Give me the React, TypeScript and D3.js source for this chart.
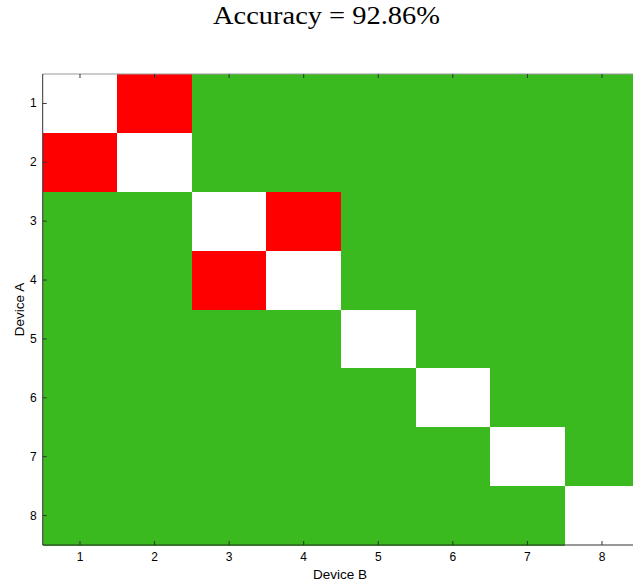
import React from "react";
import * as d3 from "d3";

const devicesA = ["1", "2", "3", "4", "5", "6", "7", "8"];
const devicesB = ["1", "2", "3", "4", "5", "6", "7", "8"];
// 0 = same device (white), 1 = confused (red), 2 = correctly distinguished (green)
const matrix: number[][] = [
  [0, 1, 2, 2, 2, 2, 2, 2],
  [1, 0, 2, 2, 2, 2, 2, 2],
  [2, 2, 0, 1, 2, 2, 2, 2],
  [2, 2, 1, 0, 2, 2, 2, 2],
  [2, 2, 2, 2, 0, 2, 2, 2],
  [2, 2, 2, 2, 2, 0, 2, 2],
  [2, 2, 2, 2, 2, 2, 0, 2],
  [2, 2, 2, 2, 2, 2, 2, 0],
];
const cellColors = ["#ffffff", "#ff0000", "#3aba1e"];
const title = "Accuracy = 92.86%";

export default function App() {
  const W = 633, H = 587;
  const left = 42.7, top = 74, cellW = 74.57, bottom = 545;
  const right = left + cellW * devicesB.length;
  const x = d3.scaleBand().domain(devicesB).range([left, right]);
  const y = d3.scaleBand().domain(devicesA).range([top, bottom]);
  const color = d3.scaleOrdinal<number, string>().domain([0, 1, 2]).range(cellColors);
  const font = "'Liberation Sans', Arial, sans-serif";
  const tick = 4;
  return (
    <svg width={W} height={H} style={{ position: "absolute", left: 0, top: 0, background: "#fff" }}>
      <text x={326.5} y={24} textAnchor="middle" fontFamily="'Liberation Serif', 'DejaVu Serif', serif" fontSize={26} textLength={227} lengthAdjust="spacingAndGlyphs" fill="#000">
        {title}
      </text>
      <g shapeRendering="crispEdges">
        {matrix.map((row, i) =>
          row.map((v, j) => (
            <rect key={`${i}-${j}`} x={x(devicesB[j])!} y={y(devicesA[i])!} width={x.bandwidth() + 0.5} height={y.bandwidth() + 0.5} fill={color(v)} />
          ))
        )}
      </g>
      {/* frame */}
      <line x1={left} x2={right} y1={top} y2={top} stroke="#999" strokeWidth={1} />
      <line x1={left} x2={right} y1={bottom} y2={bottom} stroke="#333" strokeWidth={1} />
      <line x1={left} x2={left} y1={top} y2={bottom} stroke="#333" strokeWidth={1} />
      {devicesB.map((d) => {
        const cx = x(d)! + x.bandwidth() / 2;
        return (
          <g key={`xb${d}`}>
            <line x1={cx} x2={cx} y1={bottom} y2={bottom - tick} stroke="#333" />
            <line x1={cx} x2={cx} y1={top} y2={top + tick} stroke="#333" />
            <text x={cx} y={561} textAnchor="middle" fontFamily={font} fontSize={12} fill="#000">{d}</text>
          </g>
        );
      })}
      {devicesA.map((d) => {
        const cy = y(d)! + y.bandwidth() / 2;
        return (
          <g key={`ya${d}`}>
            <line x1={left} x2={left + tick} y1={cy} y2={cy} stroke="#333" />
            <text x={left - 6} y={cy + 4} textAnchor="end" fontFamily={font} fontSize={12} fill="#000">{d}</text>
          </g>
        );
      })}
      <text x={340} y={579} textAnchor="middle" fontFamily={font} fontSize={13.5} fill="#000">Device B</text>
      <text transform={`translate(24,${(top + bottom) / 2}) rotate(-90)`} textAnchor="middle" fontFamily={font} fontSize={13.5} fill="#000">Device A</text>
    </svg>
  );
}
